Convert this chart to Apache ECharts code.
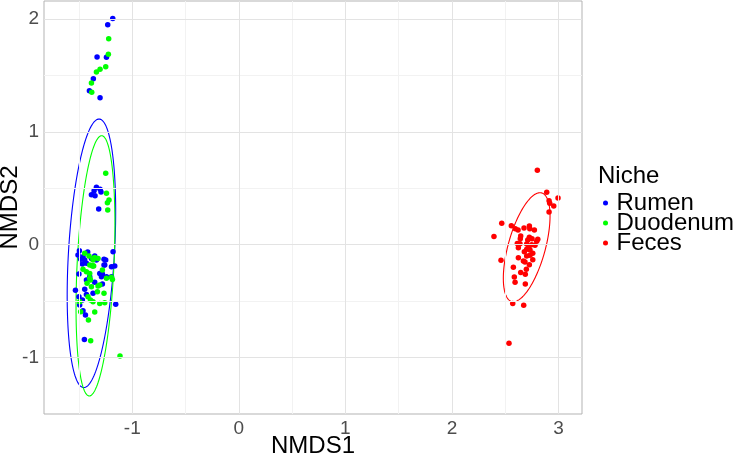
<!DOCTYPE html>
<html>
<head>
<meta charset="utf-8">
<script src="https://cdn.jsdelivr.net/npm/echarts@6/dist/echarts.min.js"></script>
<style>
  html, body { margin: 0; padding: 0; background: #fff; }
  #chart { width: 735px; height: 455px; }
</style>
</head>
<body>
<div id="chart"></div>
<script>
// NMDS scores, [NMDS1, NMDS2]
const rumen = [
  [-1.183, 2.004], [-1.230, 1.950], [-1.330, 1.664], [-1.242, 1.661], [-1.365, 1.472],
  [-1.402, 1.365], [-1.302, 1.303], [-1.336, 0.509], [-1.358, 0.479], [-1.302, 0.491],
  [-1.293, 0.467], [-1.383, 0.443], [-1.349, 0.434], [-1.315, 0.316],
  [-1.496, -0.053], [-1.509, -0.091], [-1.462, -0.106], [-1.484, -0.129], [-1.446, -0.136],
  [-1.430, -0.165], [-1.468, -0.171], [-1.383, -0.121], [-1.336, -0.136], [-1.265, -0.129],
  [-1.265, -0.180], [-1.180, -0.062], [-1.195, -0.195], [-1.164, -0.189], [-1.305, -0.254],
  [-1.280, -0.260], [-1.289, -0.284], [-1.399, -0.284], [-1.352, -0.333], [-1.430, -0.313],
  [-1.500, -0.260], [-1.533, -0.404], [-1.446, -0.395], [-1.430, -0.440], [-1.468, -0.490],
  [-1.155, -0.528], [-1.493, -0.535], [-1.500, -0.461], [-1.439, -0.623], [-1.462, -0.585],
  [-1.242, -0.284], [-1.195, -0.284], [-1.280, -0.348], [-1.368, -0.431], [-1.449, -0.839],
  [-1.418, -0.065], [-1.352, -0.100], [-1.249, -0.136], [-1.258, -0.180]
];
const duodenum = [
  [-1.221, 1.826], [-1.224, 1.688], [-1.249, 1.578], [-1.302, 1.555], [-1.336, 1.531],
  [-1.383, 1.434], [-1.380, 1.351], [-1.249, 0.633], [-1.242, 0.456], [-1.218, 0.396],
  [-1.233, 0.372], [-1.230, 0.308],
  [-1.446, -0.076], [-1.406, -0.100], [-1.368, -0.121], [-1.368, -0.136], [-1.352, -0.112],
  [-1.321, -0.121], [-1.399, -0.180], [-1.368, -0.186], [-1.462, -0.218], [-1.430, -0.239],
  [-1.399, -0.254], [-1.280, -0.224], [-1.195, -0.289], [-1.242, -0.298], [-1.424, -0.342],
  [-1.392, -0.313], [-1.383, -0.372], [-1.305, -0.357], [-1.327, -0.417], [-1.265, -0.431],
  [-1.415, -0.461], [-1.392, -0.490], [-1.368, -0.505], [-1.305, -0.520], [-1.258, -0.514],
  [-1.493, -0.505], [-1.484, -0.594], [-1.352, -0.597], [-1.411, -0.668], [-1.390, -0.851],
  [-1.115, -0.987], [-1.374, -0.189], [-1.321, -0.366], [-1.186, -0.307], [-1.362, -0.189],
  [-1.399, -0.298]
];
const feces = [
  [2.801, 0.660], [2.889, 0.465], [2.995, 0.414], [2.911, 0.390], [2.917, 0.367],
  [2.955, 0.343], [2.911, 0.290], [2.467, 0.190], [2.557, 0.168], [2.594, 0.142],
  [2.620, 0.130], [2.676, 0.148], [2.726, 0.166], [2.730, 0.142], [2.773, 0.130],
  [2.394, 0.074], [2.645, 0.077], [2.641, 0.053], [2.726, 0.066], [2.751, 0.053],
  [2.711, 0.042], [2.805, 0.048], [2.795, 0.030], [2.613, 0.012], [2.638, 0.009],
  [2.701, 0.006], [2.748, 0.000], [2.779, -0.005], [2.720, -0.023], [2.623, -0.027],
  [2.701, -0.041], [2.732, -0.047], [2.679, -0.062], [2.758, -0.076], [2.701, -0.100],
  [2.732, -0.094], [2.623, -0.115], [2.670, -0.145], [2.685, -0.153], [2.758, -0.133],
  [2.460, -0.138], [2.726, -0.177], [2.576, -0.200], [2.698, -0.218], [2.645, -0.245],
  [2.688, -0.262], [2.585, -0.286], [2.592, -0.333], [2.688, -0.348], [2.570, -0.520],
  [2.673, -0.537], [2.535, -0.874]
];

// ellipses: [centerX, centerY, axis1X, axis1Y, axis2X, axis2Y] (conjugate half-axes)
const rumenEllipse = [-1.383, -0.076, 0.0714, 1.190, 0.216, 0];
const duodenumEllipse = [-1.345, -0.187, 0.058, 1.153, 0.173, 0];
const fecesEllipse = [2.701, -0.022, 0.125, 0.483, 0.180, 0];

const niches = ['Rumen', 'Duodenum', 'Feces'];
const colors = ['#0000ff', '#00ff00', '#ff0000'];

const xTicks = [-1, 0, 1, 2, 3];
const yTicks = [-1, 0, 1, 2];
const xMinor = [-1.5, -0.5, 0.5, 1.5, 2.5];
const yMinor = [-0.5, 0.5, 1.5];

const FONT = 'Liberation Sans';

function ellipseSeries(name, ell, color) {
  return {
    name: name,
    type: 'custom',
    coordinateSystem: 'cartesian2d',
    silent: true,
    clip: false,
    z: 3,
    data: [[ell[0], ell[1]]],
    renderItem: function (params, api) {
      const pts = [];
      for (let i = 0; i <= 180; i++) {
        const t = i / 180 * Math.PI * 2;
        const c = Math.cos(t), s = Math.sin(t);
        pts.push(api.coord([ell[0] + ell[2] * c + ell[4] * s, ell[1] + ell[3] * c + ell[5] * s]));
      }
      return {
        type: 'polygon',
        shape: { points: pts },
        style: { fill: 'none', stroke: color, lineWidth: 1.1 }
      };
    }
  };
}

const chart = echarts.init(document.getElementById('chart'));

const gridLines = [];
xMinor.forEach(v => gridLines.push({ xAxis: v, lineStyle: { color: '#f2f2f2' } }));
yMinor.forEach(v => gridLines.push({ yAxis: v, lineStyle: { color: '#f2f2f2' } }));
xTicks.forEach(v => gridLines.push({ xAxis: v, lineStyle: { color: '#e3e3e3' } }));
yTicks.forEach(v => gridLines.push({ yAxis: v, lineStyle: { color: '#e3e3e3' } }));

const option = {
  animation: false,
  backgroundColor: '#ffffff',
  textStyle: { fontFamily: FONT },
  title: {
    text: 'Niche',
    left: 593,
    top: 159,
    textStyle: { fontFamily: FONT, fontSize: 24, fontWeight: 'normal', color: '#000' }
  },
  legend: {
    data: niches,
    orient: 'vertical',
    left: 598,
    top: 186,
    icon: 'circle',
    itemWidth: 10,
    itemHeight: 5,
    itemGap: -4,
    selectedMode: false,
    textStyle: { fontFamily: FONT, fontSize: 24, color: '#000', padding: [0, 0, 0, 1] }
  },
  grid: {
    left: 44,
    right: 153,
    top: 1,
    bottom: 41,
    outerBoundsMode: 'none',
    containLabel: false,
    show: true,
    borderColor: '#b3b3b3',
    borderWidth: 1,
    backgroundColor: '#fff'
  },
  xAxis: {
    type: 'value',
    min: -1.828,
    max: 3.22,
    name: 'NMDS1',
    nameLocation: 'middle',
    nameGap: 20,
    nameMoveOverlap: false,
    nameTextStyle: { fontFamily: FONT, fontSize: 24, color: '#000' },
    splitLine: { show: false },
    axisLine: { show: false },
    axisTick: { show: true, customValues: xTicks, length: 4, lineStyle: { color: '#b3b3b3' } },
    axisLabel: { customValues: xTicks, fontSize: 19, color: '#4d4d4d', margin: 5, fontFamily: FONT }
  },
  yAxis: {
    type: 'value',
    min: -1.50,
    max: 2.16,
    name: 'NMDS2',
    nameLocation: 'middle',
    nameRotate: 90,
    nameGap: 22,
    nameMoveOverlap: false,
    nameTextStyle: { fontFamily: FONT, fontSize: 24, color: '#000' },
    splitLine: { show: false },
    axisLine: { show: false },
    axisTick: { show: true, customValues: yTicks, length: 4, lineStyle: { color: '#b3b3b3' } },
    axisLabel: { customValues: yTicks, fontSize: 19, color: '#4d4d4d', margin: 5, fontFamily: FONT }
  },
  series: [
    {
      name: 'grid',
      type: 'line',
      data: [],
      silent: true,
      z: 0,
      markLine: {
        silent: true,
        symbol: 'none',
        label: { show: false },
        lineStyle: { type: 'solid', width: 1 },
        data: gridLines
      }
    },
    { name: 'Rumen', type: 'scatter', data: rumen, symbol: 'circle', symbolSize: 5.5, itemStyle: { color: colors[0], opacity: 1 }, z: 4 },
    { name: 'Duodenum', type: 'scatter', data: duodenum, symbol: 'circle', symbolSize: 5.5, itemStyle: { color: colors[1], opacity: 1 }, z: 4 },
    { name: 'Feces', type: 'scatter', data: feces, symbol: 'circle', symbolSize: 5.5, itemStyle: { color: colors[2], opacity: 1 }, z: 4 },
    ellipseSeries('Rumen ellipse', rumenEllipse, colors[0]),
    ellipseSeries('Duodenum ellipse', duodenumEllipse, colors[1]),
    ellipseSeries('Feces ellipse', fecesEllipse, colors[2])
  ]
};

chart.setOption(option);
</script>
</body>
</html>
